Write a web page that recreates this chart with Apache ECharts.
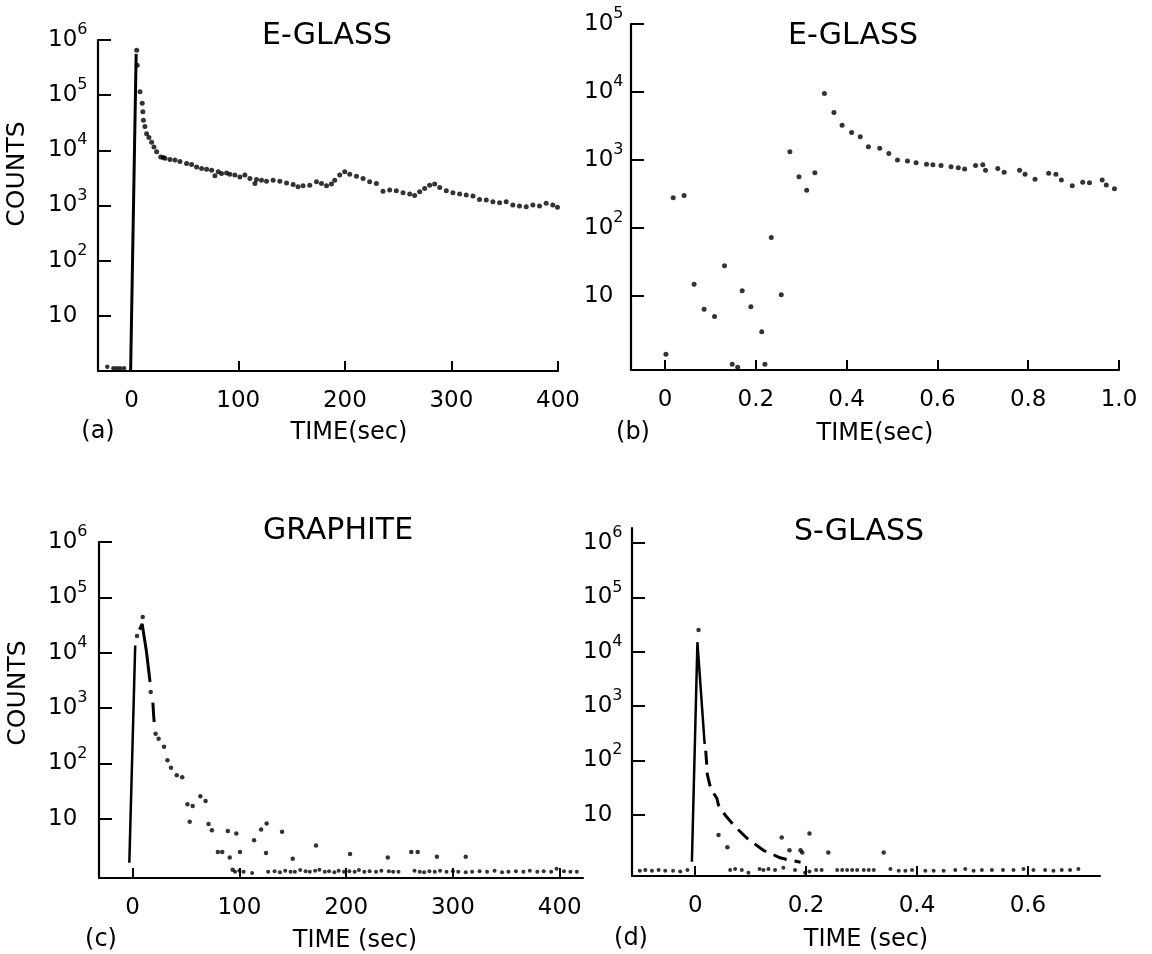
<!DOCTYPE html>
<html><head><meta charset="utf-8">
<script src="https://cdn.jsdelivr.net/npm/echarts@6/dist/echarts.min.js"></script>
<style>html,body{margin:0;padding:0;background:#fff}#c{width:1152px;height:954px}</style>
</head><body><div id="c"></div>
<script>
const FONT = 'DejaVu Sans';

// ---------- Panel (a) E-GLASS, 0-400 s ----------
const aPreT = [-22.9, -17.2, -14, -10.9, -7.2];
const aPreC = [1.2, 1.12, 1.12, 1.12, 1.12];
const aSpikeT = [-1, 4.2];
const aSpikeC = [1, 5.6e5];
const aT = [4.7,5.2,7.8,9.9,10.5,11,12.4,14,16.2,18.7,20.9,23.4,27.2,29.6,31.2,35.9,40.6,45.3,51.5,56.2,60.9,65.6,70.3,75,78.1,81.2,84.3,89,92.1,96.8,101.5,106.2,110.9,115.6,117.1,121.8,126.5,132.7,139,145.3,151.5,156.1,160.8,167.1,173.4,178.1,182.8,187.4,190.5,195.2,199.9,204.6,210.9,217.1,223.3,229.6,235.8,242.1,248.3,254.6,260.9,265.5,270.2,274.9,279.6,284.3,289,295.2,301.4,307.7,313.9,320.2,326.4,332.7,338.9,345.2,351.4,357.6,363.9,370.2,376.4,382.7,388.9,395.1,399.5];
const aC = [6.5e5,3.5e5,1.15e5,7.1e4,5e4,3.5e4,2.7e4,2e4,1.7e4,1.4e4,1.15e4,9400,7600,7400,7200,6850,6650,6300,5800,5550,5000,4700,4550,4370,3450,4100,3800,3900,3700,3560,3300,3560,3100,2500,2960,2880,2760,2880,2760,2570,2400,2190,2290,2340,2690,2510,2290,2450,2880,3560,4100,3700,3400,3100,2690,2510,1820,1900,1860,1700,1620,1520,1780,2040,2340,2450,2130,1860,1700,1620,1550,1480,1290,1260,1170,1120,1170,1020,980,950,1020,980,1100,1020,930];
const aXTicks = [0, 100, 200, 300, 400];
const aXLabels = ['0', '100', '200', '300', '400'];
const aXMarks = [100, 200, 300, 400];
const aYTicks = [10, 100, 1e3, 1e4, 1e5, 1e6];

// ---------- Panel (b) E-GLASS, 0-1 s ----------
const bT = [0.002,0.018,0.042,0.064,0.086,0.109,0.131,0.148,0.16,0.17,0.189,0.213,0.22,0.234,0.256,0.275,0.295,0.312,0.33,0.351,0.372,0.39,0.411,0.43,0.448,0.473,0.493,0.512,0.534,0.553,0.576,0.59,0.608,0.63,0.646,0.66,0.684,0.70,0.706,0.733,0.747,0.781,0.793,0.815,0.845,0.861,0.873,0.897,0.92,0.935,0.963,0.972,0.99];
const bC = [1.4,280,300,15,6.4,5,28,1.0,0.9,12,7,3,1.0,73,10.5,1320,570,360,650,9500,5000,3250,2550,2200,1570,1490,1250,1000,965,910,870,850,830,800,770,740,830,850,710,750,660,710,620,520,640,620,510,420,470,465,510,430,380];
const bXTicks = [0, 0.2, 0.4, 0.6, 0.8, 1.0];
const bXLabels = ['0', '0.2', '0.4', '0.6', '0.8', '1.0'];
const bYTicks = [10, 100, 1e3, 1e4, 1e5];

// ---------- Panel (c) GRAPHITE ----------
const cRiseT = [-3, 2.5];
const cRiseC = [1.6, 1.35e4];
const cPeakT = [6.5, 9, 12.9, 16.4];
const cPeakC = [2.6e4, 3.3e4, 1.1e4, 2950];
const cDashT = [19, 20.2];
const cDashC = [1250, 560];
const cT = [4.2,9.5,17,21.6,24.4,29.5,32.7,36,41.4,46.5,51.4,53.5,56.3,63.5,68.4,71.2,74.3,79.9,84,89.2,91,93.7,97.2,100.6,113.8,120.4,125.6,125,140,150,171.8,203.7,239,261,267,285,312];
const cC = [2e4,4.4e4,1950,345,280,200,114,83,61,56,18.3,8.8,17,25.6,21,8,6.2,2.5,2.5,6,2.0,1.2,5.4,2.5,4.1,6.4,8.2,2.4,5.8,1.9,3.3,2.3,2.0,2.5,2.5,2.05,2.05];
const cBaseT = [96,100,104,112,127,133,138,143,148,152,157,162,166,171,175,180,184,189,193,198,203,208,212,217,222,228,233,240,244,249,264,269,273,278,283,288,294,300,305,312,318,325,332,339,346,352,359,366,372,379,385,392,397,404,410,416];
const cBaseC = [1.1,1.15,1.1,1.05,1.1,1.12,1.08,1.15,1.1,1.1,1.18,1.12,1.1,1.15,1.2,1.1,1.12,1.08,1.15,1.1,1.12,1.1,1.18,1.1,1.12,1.1,1.15,1.12,1.1,1.1,1.15,1.1,1.08,1.12,1.1,1.15,1.1,1.12,1.1,1.08,1.1,1.12,1.1,1.15,1.08,1.1,1.12,1.1,1.15,1.1,1.12,1.1,1.25,1.12,1.1,1.1];
const cXTicks = [0, 100, 200, 300, 400];
const cXLabels = ['0', '100', '200', '300', '400'];
const cYTicks = [10, 100, 1e3, 1e4, 1e5, 1e6];

// ---------- Panel (d) S-GLASS ----------
const dSpikeT = [-0.006, 0.004, 0.017];
const dSpikeC = [1.35, 1.5e4, 200];
const dCurveT = [0.019,0.022,0.027,0.033,0.039,0.042,0.055,0.069,0.08,0.093,0.105,0.123,0.14,0.153,0.17,0.19];
const dCurveC = [150,54,33,25,20,15,9.5,6.5,5,3.7,3.0,2.2,1.85,1.6,1.45,1.33];
const dT = [0.006,0.042,0.058,0.156,0.17,0.19,0.193,0.206,0.24,0.34];
const dC = [2.5e4,4.2,2.5,3.8,2.2,2.2,2.0,4.5,2.0,2.0];
const dBaseT = [-0.1,-0.09,-0.078,-0.066,-0.054,-0.04,-0.027,-0.014,
  0.063,0.072,0.084,0.096,0.116,0.123,0.132,0.144,0.159,0.18,
  0.198,0.206,0.218,0.228,0.256,0.265,0.274,0.283,0.292,0.304,
  0.313,0.322,0.352,0.367,0.379,0.391,0.415,0.43,0.448,0.469,
  0.487,0.502,0.517,0.535,0.555,0.574,0.592,0.61,0.631,0.646,
  0.661,0.676,0.691];
const dBaseC = [0.92,0.95,0.92,0.95,0.92,0.92,0.9,0.95,
  0.95,1.0,0.95,0.85,1.0,0.95,1.0,0.95,1.05,0.95,
  0.85,0.9,0.95,0.95,0.95,0.95,0.95,0.95,0.95,0.95,
  0.95,0.95,1.0,0.92,0.92,0.95,0.92,0.92,0.92,0.95,
  1.0,0.92,0.95,0.95,0.95,0.95,1.0,0.95,0.95,0.92,
  0.95,0.95,1.0];
const dXTicks = [0, 0.2, 0.4, 0.6];
const dXLabels = ['0', '0.2', '0.4', '0.6'];
const dYTicks = [10, 100, 1e3, 1e4, 1e5, 1e6];

// ---------- helpers ----------
const zip = (xs, ys) => xs.map((x, i) => [x, ys[i]]);
const INK = '#000';

function xAxis(i, min, max, ticks, labels, marks, name, padLeft, gap) {
  return {
    type: 'value', gridIndex: i, min: min, max: max,
    axisLine: { show: true, onZero: false, lineStyle: { color: INK, width: 2.2 } },
    axisTick: { show: true, inside: true, length: 10, customValues: marks, lineStyle: { color: INK, width: 2 } },
    axisLabel: {
      show: true, margin: 19, customValues: ticks, color: INK, fontFamily: FONT, fontSize: 23,
      formatter: v => { const k = ticks.findIndex(t => Math.abs(t - v) < 1e-9); return k < 0 ? '' : labels[k]; }
    },
    splitLine: { show: false },
    name: name, nameLocation: 'middle', nameGap: gap,
    nameTextStyle: { color: INK, fontFamily: FONT, fontSize: 24, padding: [0, 0, 0, padLeft] }
  };
}

function yAxis(i, min, max, ticks, margin, name, padLeft) {
  const ax = {
    type: 'log', logBase: 10, gridIndex: i, min: min, max: max,
    axisLine: { show: true, onZero: false, lineStyle: { color: INK, width: 2.2 } },
    axisTick: { show: true, inside: true, length: 13, customValues: ticks, lineStyle: { color: INK, width: 2 } },
    axisLabel: {
      show: true, align: 'left', margin: margin, customValues: ticks,
      formatter: v => { const n = Math.round(Math.log10(v)); return n === 1 ? '{b|10}' : '{b|10}{s|' + n + '}'; },
      rich: {
        b: { fontFamily: FONT, fontSize: 23, color: INK, lineHeight: 36, verticalAlign: 'middle' },
        s: { fontFamily: FONT, fontSize: 16, color: INK, lineHeight: 16, verticalAlign: 'top' }
      }
    },
    splitLine: { show: false }
  };
  if (name) {
    ax.name = name; ax.nameLocation = 'middle'; ax.nameGap = 68; ax.nameRotate = 90;
    ax.nameTextStyle = { color: INK, fontFamily: FONT, fontSize: 25, padding: [0, 0, 0, padLeft] };
  }
  return ax;
}

function dots(i, xs, ys, size) {
  return { type: 'scatter', xAxisIndex: i, yAxisIndex: i, data: zip(xs, ys), symbol: 'circle', symbolSize: size,
    itemStyle: { color: INK }, silent: true, z: 3 };
}
function line(i, xs, ys, width, dash) {
  return { type: 'line', xAxisIndex: i, yAxisIndex: i, data: zip(xs, ys), showSymbol: false, symbol: 'none',
    lineStyle: { color: INK, width: width, type: dash || 'solid', cap: 'butt' }, silent: true, z: 2 };
}
function label(text, x, y, size) {
  return { text: text, left: x, top: y, padding: 0, textAlign: 'center', textVerticalAlign: 'middle',
    textStyle: { color: INK, fontFamily: FONT, fontSize: size, fontWeight: 'normal' } };
}

const option = {
  animation: false,
  backgroundColor: '#fff',
  title: [
    label('E-GLASS', 327, 36, 30),
    label('E-GLASS', 853, 36, 30),
    label('GRAPHITE', 338, 531, 30),
    label('S-GLASS', 859, 532, 30),
    label('(a)', 98, 432, 24),
    label('(b)', 633, 433, 24),
    label('(c)', 101, 940, 24),
    label('(d)', 631, 939, 24)
  ],
  grid: [
    { left: 98, top: 40, width: 460, height: 331 },
    { left: 631, top: 24, width: 488, height: 346 },
    { left: 99, top: 542, width: 484, height: 336 },
    { left: 632, top: 528, width: 468, height: 348 }
  ],
  xAxis: [
    xAxis(0, -31.6, 400, aXTicks, aXLabels, aXMarks, 'TIME(sec)', 42, 50),
    xAxis(1, -0.075, 1.0, bXTicks, bXLabels, bXTicks, 'TIME(sec)', 0, 52),
    xAxis(2, -31.4, 421.8, cXTicks, cXLabels, cXTicks, 'TIME (sec)', 28, 51),
    xAxis(3, -0.114, 0.73, dXTicks, dXLabels, dXTicks, 'TIME (sec)', 0, 52)
  ],
  yAxis: [
    yAxis(0, 1, 1e6, aYTicks, 50, 'COUNTS', 63),
    yAxis(1, 0.82, 1e5, bYTicks, 47, null, 0),
    yAxis(2, 0.85, 1e6, cYTicks, 51, 'COUNTS', 34),
    yAxis(3, 0.74, 1.9e6, dYTicks, 49, null, 0)
  ],
  series: [
    line(0, aSpikeT, aSpikeC, 3),
    dots(0, aPreT, aPreC, 4.5),
    dots(0, aT, aC, 5),
    dots(1, bT, bC, 5),
    line(2, cRiseT, cRiseC, 2.5),
    line(2, cPeakT, cPeakC, 3),
    line(2, cDashT, cDashC, 3),
    dots(2, cT, cC, 4.5),
    dots(2, cBaseT, cBaseC, 4),
    line(3, dSpikeT, dSpikeC, 2.5),
    line(3, dCurveT, dCurveC, 3, [14, 8]),
    dots(3, dT, dC, 4.5),
    dots(3, dBaseT, dBaseC, 4)
  ]
};

const chart = echarts.init(document.getElementById('c'), null, { renderer: 'canvas' });
chart.setOption(option);
</script>
</body></html>
